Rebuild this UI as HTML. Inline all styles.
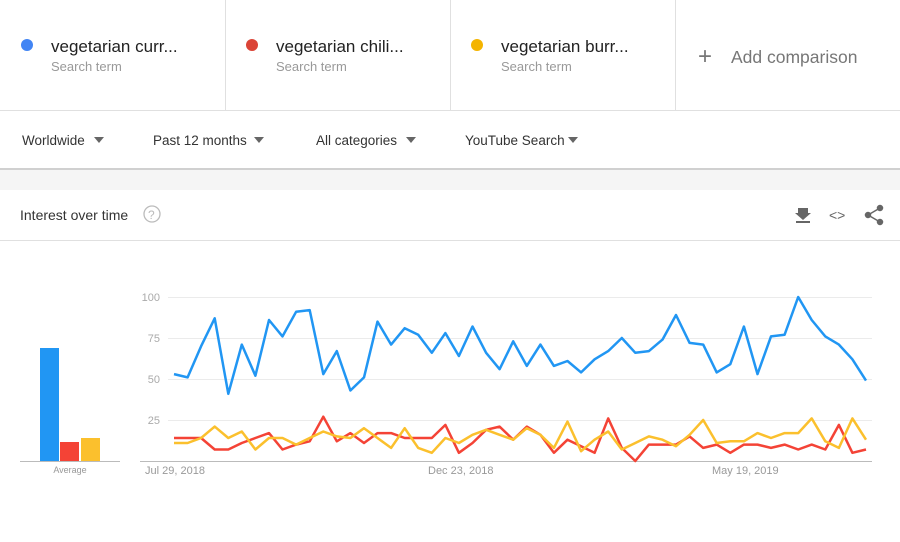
<!DOCTYPE html>
<html><head><meta charset="utf-8"><style>
body{margin:0;width:900px;height:537px;overflow:hidden;background:#fff;font-family:"Liberation Sans",Arial,sans-serif}
svg text{font-family:"Liberation Sans",Arial,sans-serif}
</style></head><body>
<svg id="s" width="900" height="537" xmlns="http://www.w3.org/2000/svg">
<rect x="0" y="0" width="900" height="537" fill="#fff"/>
<line x1="0" y1="110.5" x2="900" y2="110.5" stroke="#e0e0e0"/>
<line x1="225.5" y1="0" x2="225.5" y2="110" stroke="#e0e0e0"/>
<line x1="450.5" y1="0" x2="450.5" y2="110" stroke="#e0e0e0"/>
<line x1="675.5" y1="0" x2="675.5" y2="110" stroke="#e0e0e0"/>
<circle cx="27" cy="45" r="6" fill="#4285f4"/>
<text x="51" y="52" font-size="17" fill="#222">vegetarian curr...</text>
<text x="51" y="71" font-size="13" fill="#999">Search term</text>
<circle cx="252" cy="45" r="6" fill="#db4437"/>
<text x="276" y="52" font-size="17" fill="#222">vegetarian chili...</text>
<text x="276" y="71" font-size="13" fill="#999">Search term</text>
<circle cx="477" cy="45" r="6" fill="#f4b400"/>
<text x="501" y="52" font-size="17" fill="#222">vegetarian burr...</text>
<text x="501" y="71" font-size="13" fill="#999">Search term</text>
<text x="698" y="64" font-size="24" fill="#777">+</text>
<text x="731" y="63" font-size="17.5" fill="#777">Add comparison</text>
<g font-size="13.5" fill="#333">
<text x="22" y="145">Worldwide</text><path d="M94 137h10l-5 6z" fill="#666"/>
<text x="153" y="145">Past 12 months</text><path d="M254 137h10l-5 6z" fill="#666"/>
<text x="316" y="145">All categories</text><path d="M406 137h10l-5 6z" fill="#666"/>
<text x="465" y="145">YouTube Search</text><path d="M568 137h10l-5 6z" fill="#666"/>
</g>
<rect x="0" y="168" width="900" height="22" fill="#f5f5f5"/>
<rect x="0" y="168" width="900" height="2" fill="#d0d0d0"/>
<text x="20" y="220" font-size="14" fill="#333">Interest over time</text>
<circle cx="152" cy="214" r="8" fill="none" stroke="#bbb" stroke-width="1.3"/>
<text x="148" y="219" font-size="12" fill="#bbb">?</text>
<g fill="#666">
<path d="M798 208h10v5h3l-8 7-8-7h3z"/><rect x="796" y="221" width="14" height="2"/>
</g>
<text x="829" y="220" font-size="14" fill="#666">&lt;&gt;</text>
<g fill="#666" stroke="#666" stroke-width="1.5"><circle cx="880" cy="208" r="2.5"/><circle cx="868" cy="215" r="2.5"/><circle cx="880" cy="222" r="2.5"/><line x1="880" y1="208" x2="868" y2="215"/><line x1="868" y1="215" x2="880" y2="222"/></g>
<line x1="0" y1="240.5" x2="900" y2="240.5" stroke="#e0e0e0"/>
<g stroke="#ebebeb"><line x1="168" y1="297.5" x2="872" y2="297.5"/><line x1="168" y1="338.5" x2="872" y2="338.5"/><line x1="168" y1="379.5" x2="872" y2="379.5"/><line x1="168" y1="420.5" x2="872" y2="420.5"/></g>
<line x1="140" y1="461.5" x2="872" y2="461.5" stroke="#bbb"/>
<g font-size="11" fill="#aaa" text-anchor="end"><text x="160" y="301">100</text><text x="160" y="342">75</text><text x="160" y="383">50</text><text x="160" y="424">25</text></g>
<g font-size="11" fill="#999"><text x="145" y="474">Jul 29, 2018</text><text x="428" y="474">Dec 23, 2018</text><text x="712" y="474">May 19, 2019</text></g>
<rect x="40" y="348" width="19" height="113" fill="#2196f3"/>
<rect x="60" y="442" width="19" height="19" fill="#f44336"/>
<rect x="81" y="438" width="19" height="23" fill="#fbc02d"/>
<line x1="20" y1="461.5" x2="120" y2="461.5" stroke="#bbb"/>
<text x="70" y="473" font-size="9" fill="#999" text-anchor="middle">Average</text>
<polyline id="pr" fill="none" stroke="#f44336" stroke-width="2.5" stroke-linejoin="round"/>
<polyline id="py" fill="none" stroke="#fbc02d" stroke-width="2.5" stroke-linejoin="round"/>
<polyline id="pb" fill="none" stroke="#2196f3" stroke-width="2.5" stroke-linejoin="round"/>
</svg>
<script>
var B=[53,51,70,87,41,71,52,86,76,91,92,53,67,43,51,85,71,81,77,66,78,64,82,66,56,73,58,71,58,61,54,62,67,75,66,67,74,89,72,71,54,59,82,53,76,77,100,86,76,71,62,49];
var R=[14,14,14,7,7,11,14,17,7,10,12,27,12,17,11,17,17,14,14,14,22,5,11,19,21,13,21,16,5,13,9,5,26,8,0,10,10,10,15,8,10,5,10,10,8,10,7,10,7,22,5,7];
var Y=[11,11,14,21,14,18,7,14,14,10,14,18,15,14,20,14,8,20,8,5,14,11,16,19,16,13,20,16,8,24,6,13,18,7,11,15,13,9,16,25,11,12,12,17,14,17,17,26,12,8,26,13];
function p(a){return a.map(function(v,i){return (174+i*692/51).toFixed(1)+','+(461-v*1.64).toFixed(1)}).join(' ')}
document.getElementById('pb').setAttribute('points',p(B));
document.getElementById('pr').setAttribute('points',p(R));
document.getElementById('py').setAttribute('points',p(Y));
</script>
</body></html>
